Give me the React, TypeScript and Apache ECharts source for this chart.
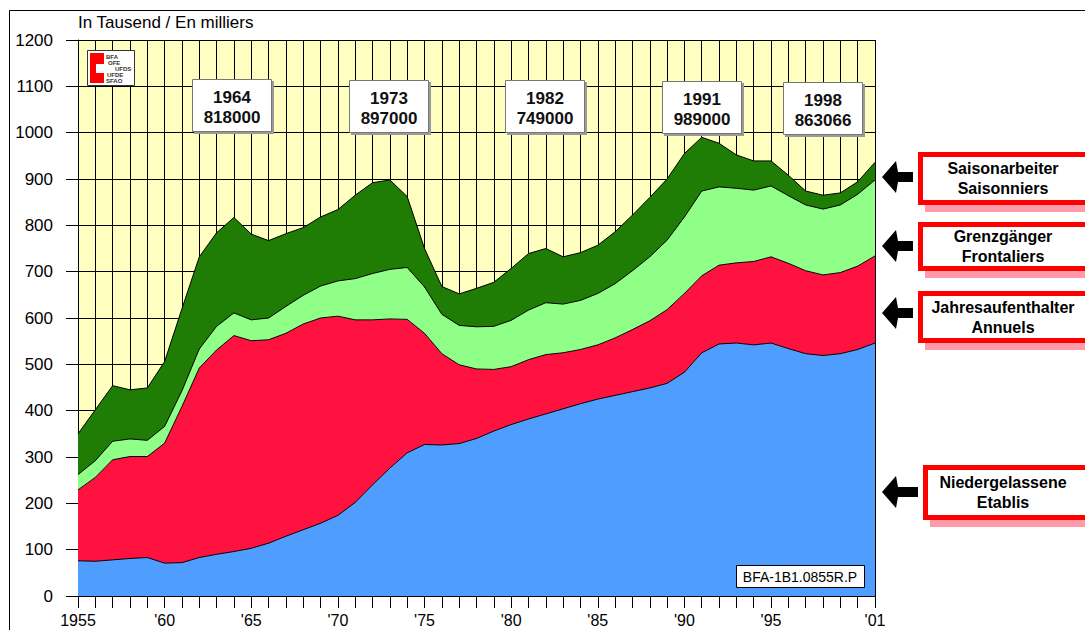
import React, { useEffect, useRef } from "react";
import * as echarts from "echarts";

const years = [
  "1955", "1956", "1957", "1958", "1959", "1960", "1961", "1962", "1963", "1964",
  "1965", "1966", "1967", "1968", "1969", "1970", "1971", "1972", "1973", "1974",
  "1975", "1976", "1977", "1978", "1979", "1980", "1981", "1982", "1983", "1984",
  "1985", "1986", "1987", "1988", "1989", "1990", "1991", "1992", "1993", "1994",
  "1995", "1996", "1997", "1998", "1999", "2000", "2001",
];

// Thousands of persons (stacked layers)
const niedergelassene = [
  76, 75, 78, 81, 83, 71, 72, 83, 90, 96,
  103, 114, 129, 143, 157, 174, 202, 240, 276, 309,
  327, 326, 329, 340, 356, 370, 382, 393, 404, 415,
  425, 433, 441, 449, 459, 483, 525, 544, 546, 542,
  546, 534, 523, 519, 523, 532, 546,
];
const jahresaufenthalter = [
  153, 181, 216, 220, 218, 259, 337, 409, 441, 466,
  448, 439, 438, 444, 443, 430, 394, 356, 322, 288,
  240, 197, 170, 150, 133, 125, 128, 128, 121, 117,
  117, 124, 134, 145, 159, 170, 166, 170, 173, 180,
  186, 184, 179, 174, 175, 180, 188,
];
const grenzgaenger = [
  33, 36, 40, 38, 35, 36, 34, 41, 51, 49,
  45, 47, 58, 62, 69, 76, 89, 100, 107, 112,
  100, 85, 85, 91, 93, 100, 107, 112, 105, 106,
  111, 117, 127, 138, 150, 165, 183, 169, 161, 154,
  153, 146, 142, 142, 146, 155, 164,
];
const saisonarbeiter = [
  88, 110, 120, 106, 113, 140, 177, 199, 202, 206,
  185, 167, 157, 146, 149, 154, 180, 196, 193, 153,
  83, 60, 68, 83, 95, 112, 122, 117, 102, 103,
  104, 112, 120, 128, 132, 137, 116, 94, 72, 63,
  54, 44, 30, 30, 26, 27, 38,
];

const labelledYears = ["1955", "1960", "1965", "1970", "1975", "1980", "1985", "1990", "1995", "2001"];

const peakYears = ["1964", "1973", "1982", "1991", "1998"];
const peakTotals = ["818000", "897000", "749000", "989000", "863066"];

const legendDe = ["Saisonarbeiter", "Grenzgänger", "Jahresaufenthalter", "Niedergelassene"];
const legendFr = ["Saisonniers", "Frontaliers", "Annuels", "Etablis"];

const axisTitle = "In Tausend / En milliers";
const refCode = "BFA-1B1.0855R.P";
const logoLines = ["BFA", "OFE", "UFDS", "UFDE", "SFAO"];

const FONT = "'Liberation Sans', Arial, Helvetica, sans-serif";

const colors = {
  niedergelassene: "#4e9dff",
  jahresaufenthalter: "#ff1140",
  grenzgaenger: "#90ff88",
  saisonarbeiter: "#1f7d06",
  plotBg: "#ffffc0",
};

function arrow(cy: number, tipX: number, endX: number) {
  const headBase = tipX + 15;
  return {
    type: "polygon",
    z: 100,
    shape: {
      points: [
        [tipX, cy],
        [headBase - 1, cy - 16],
        [headBase + 1, cy - 5],
        [endX, cy - 5],
        [endX, cy + 5],
        [headBase + 1, cy + 5],
        [headBase - 1, cy + 16],
      ],
    },
    style: { fill: "#000" },
  };
}

function buildGraphics() {
  const g: any[] = [];
  // outer frame
  g.push({ type: "line", z: 100, shape: { x1: 9.5, y1: 10.5, x2: 1085, y2: 10.5 }, style: { stroke: "#000", lineWidth: 1 } });
  g.push({ type: "line", z: 100, shape: { x1: 9.5, y1: 10.5, x2: 9.5, y2: 630 }, style: { stroke: "#000", lineWidth: 1 } });

  // axis title
  g.push({
    type: "text", z: 100,
    style: { text: axisTitle, x: 78, y: 22, font: `17px ${FONT}`, fill: "#000", textVerticalAlign: "middle", verticalAlign: "middle" },
  });

  // logo
  g.push({ type: "rect", z: 100, shape: { x: 87.5, y: 50.5, width: 47, height: 35 }, style: { fill: "#fff", stroke: "#333", lineWidth: 1 } });
  g.push({
    type: "polygon", z: 101,
    shape: { points: [[90, 53], [104, 53], [104, 64], [96, 64], [96, 73], [104, 73], [104, 83], [90, 83]] },
    style: { fill: "#ff0000" },
  });
  const logoPos = [[106, 57], [108, 62.5], [115, 68.5], [107, 74.5], [106, 80.5]];
  logoLines.forEach((t, i) => {
    g.push({
      type: "text", z: 101,
      style: { text: t, x: logoPos[i][0], y: logoPos[i][1], font: `bold 6px ${FONT}`, fill: "#333", textVerticalAlign: "middle", verticalAlign: "middle" },
    });
  });

  // peak annotation boxes
  const boxX = [192, 349, 505, 662, 783];
  const boxY = [79, 80, 80, 81, 82];
  peakYears.forEach((yr, i) => {
    const x = boxX[i], y = boxY[i];
    g.push({ type: "rect", z: 100, shape: { x: x + 2, y: y + 2, width: 80, height: 53 }, style: { fill: "#9a9a9a" } });
    g.push({ type: "rect", z: 101, shape: { x: x + 0.5, y: y + 0.5, width: 79, height: 52 }, style: { fill: "#fff", stroke: "#777", lineWidth: 1 } });
    g.push({
      type: "text", z: 102,
      style: { text: yr, x: x + 40, y: y + 18, font: `bold 17px ${FONT}`, fill: "#111", textAlign: "center", align: "center", textVerticalAlign: "middle", verticalAlign: "middle" },
    });
    g.push({
      type: "text", z: 102,
      style: { text: peakTotals[i], x: x + 40, y: y + 38, font: `bold 17px ${FONT}`, fill: "#111", textAlign: "center", align: "center", textVerticalAlign: "middle", verticalAlign: "middle" },
    });
  });

  // reference code box
  g.push({ type: "rect", z: 100, shape: { x: 736.5, y: 565.5, width: 128, height: 22 }, style: { fill: "#fff", stroke: "#000", lineWidth: 1 } });
  g.push({
    type: "text", z: 101,
    style: { text: refCode, x: 800, y: 577, font: `14px ${FONT}`, fill: "#000", textAlign: "center", align: "center", textVerticalAlign: "middle", verticalAlign: "middle" },
  });

  // right-side legend boxes
  const lbX = [918, 918, 918, 923];
  const lbTop = [152, 222, 291, 465];
  const lbH = [53, 49, 52, 55];
  const arrowY = [177, 246, 313, 492];
  legendDe.forEach((de, i) => {
    const x = lbX[i], y = lbTop[i], h = lbH[i];
    g.push({ type: "rect", z: 100, shape: { x: x + 7, y: y + 7, width: 220, height: h }, style: { fill: "#ff9aaa" } });
    g.push({ type: "rect", z: 101, shape: { x: x + 2.5, y: y + 2.5, width: 220, height: h - 5 }, style: { fill: "#fff", stroke: "#ff0000", lineWidth: 5 } });
    const mid = y + h / 2;
    g.push({
      type: "text", z: 102,
      style: { text: de, x: 1003, y: mid - 10, font: `bold 16px ${FONT}`, fill: "#000", textAlign: "center", align: "center", textVerticalAlign: "middle", verticalAlign: "middle" },
    });
    g.push({
      type: "text", z: 102,
      style: { text: legendFr[i], x: 1003, y: mid + 10, font: `bold 16px ${FONT}`, fill: "#000", textAlign: "center", align: "center", textVerticalAlign: "middle", verticalAlign: "middle" },
    });
    g.push(arrow(arrowY[i], 882, i === 3 ? 918 : 913));
  });
  return g;
}

export default function App() {
  const ref = useRef<HTMLDivElement>(null);
  useEffect(() => {
    if (!ref.current) return;
    const chart = echarts.init(ref.current, undefined, { renderer: "svg" });
    const mkSeries = (name: string, data: number[], color: string) => ({
      name,
      type: "line",
      stack: "total",
      data,
      symbol: "none",
      showSymbol: false,
      lineStyle: { color: "#000", width: 1 },
      areaStyle: { color, opacity: 1 },
      itemStyle: { color },
      emphasis: { disabled: true },
    });
    chart.setOption({
      animation: false,
      backgroundColor: "#fff",
      textStyle: { fontFamily: FONT },
      grid: {
        left: 78, top: 40, width: 797, height: 556,
        show: true, backgroundColor: colors.plotBg, borderWidth: 0,
        containLabel: false, outerBoundsMode: "none",
      },
      xAxis: {
        type: "category",
        data: years,
        boundaryGap: false,
        axisLine: { show: true, lineStyle: { color: "#000", width: 1 } },
        axisTick: { show: true, interval: 0, length: 12, lineStyle: { color: "#000", width: 1 } },
        axisLabel: {
          interval: 0, color: "#000", fontSize: 16, lineHeight: 16, margin: 16, fontFamily: FONT,
          formatter: (v: string) => {
            if (!labelledYears.includes(v)) return "";
            if (v === "1955") return v;
            return "'" + v.slice(2);
          },
        },
        splitLine: { show: true, interval: 0, lineStyle: { color: "#000", width: 1 } },
      },
      yAxis: {
        type: "value",
        min: 0, max: 1200, interval: 100,
        axisLine: { show: true, lineStyle: { color: "#000", width: 1 } },
        axisTick: { show: true, length: 12, lineStyle: { color: "#000", width: 1 } },
        axisLabel: { color: "#000", fontSize: 17, margin: 25, fontFamily: FONT, formatter: (v: number) => String(v) },
        splitLine: { show: true, lineStyle: { color: "#000", width: 1 } },
      },
      series: [
        mkSeries("Niedergelassene / Etablis", niedergelassene, colors.niedergelassene),
        mkSeries("Jahresaufenthalter / Annuels", jahresaufenthalter, colors.jahresaufenthalter),
        mkSeries("Grenzgänger / Frontaliers", grenzgaenger, colors.grenzgaenger),
        mkSeries("Saisonarbeiter / Saisonniers", saisonarbeiter, colors.saisonarbeiter),
      ],
      graphic: buildGraphics(),
    });
    return () => chart.dispose();
  }, []);
  return (
    <div
      ref={ref}
      style={{ position: "fixed", left: 0, top: 0, width: 1085, height: 630, background: "#fff" }}
    />
  );
}
